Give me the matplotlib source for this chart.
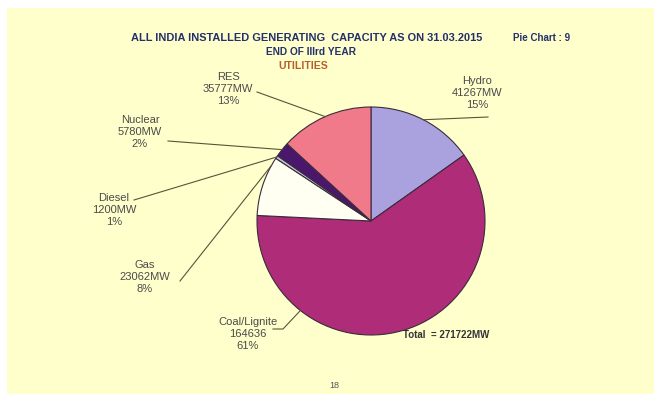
import numpy as np
import matplotlib
matplotlib.use("Agg")
from matplotlib import pyplot as plt
from matplotlib.patches import Rectangle

# Installed capacity by source (MW), clockwise from the top
sources = ["Hydro", "Coal/Lignite", "Gas", "Diesel", "Nuclear", "RES"]
capacity_mw = [41267, 164636, 23062, 1200, 5780, 35777]
pct_labels = [15, 61, 8, 1, 2, 13]
colors = ["#A9A2DE", "#AE2C78", "#FFFFF2", "#B9C4DC", "#4A176A", "#F07A8A"]

W, H = 654, 394


def py(y):
    # page pixel rows run downwards, the axes run upwards
    return H - y


fig = plt.figure(figsize=(W / 100, H / 100), dpi=100, facecolor="white")
ax = fig.add_axes([0, 0, 1, 1])

plt.rcParams["font.family"] = ["Liberation Sans", "DejaVu Sans"]

# pale yellow slide panel
ax.add_patch(Rectangle((7, 0), W - 7, H - 8, facecolor="#FFFFCC", edgecolor="none", zorder=0))

cx, cy, r = 371, py(221), 114
wedges, _ = ax.pie(capacity_mw, colors=colors, startangle=90, counterclock=False,
                   center=(cx, cy), radius=r,
                   wedgeprops=dict(edgecolor="#3b2b3b", linewidth=0.8))
ax.set_xlim(0, W)
ax.set_ylim(0, H)
ax.set_aspect("equal")
ax.axis("off")

# label text centre, leader line end, and where along the wedge the leader lands
label_pos = {
    "Hydro": ((477, 93), (488, 117), 0.5),
    "Coal/Lignite": ((248, 334), (273, 329), 0.75),
    "Gas": ((145, 277), (180, 281), 0.86),
    "Diesel": ((114, 210), (134, 200), 0.5),
    "Nuclear": ((140, 132), (168, 141), 0.5),
    "RES": ((228, 89), (257, 92), 0.5),
}

for name, mw, pct, w in zip(sources, capacity_mw, pct_labels, wedges):
    (tx, ty), (lx, ly), frac = label_pos[name]
    unit = "" if name == "Coal/Lignite" else "MW"
    ax.text(tx, py(ty), f"{name}\n{mw}{unit}\n{pct}%", ha="center", va="center",
            fontsize=8.0, color="#4a4a4a", linespacing=1.3)
    ang = np.deg2rad(w.theta2 - frac * (w.theta2 - w.theta1))
    ex, ey = cx + r * np.cos(ang), cy + r * np.sin(ang)
    if name == "Coal/Lignite":
        xs, ys = [lx, lx + 10, ex], [py(ly), py(ly), ey]
    else:
        xs, ys = [lx, ex], [py(ly), ey]
    ax.plot(xs, ys, color="#55553a", linewidth=0.8, zorder=3)

title_col = "#24306a"
ax.text(307, py(38), "ALL INDIA INSTALLED GENERATING  CAPACITY AS ON 31.03.2015",
        ha="center", va="center", fontsize=7.9, fontweight="bold", color=title_col)
ax.text(542, py(38), "Pie Chart : 9", ha="center", va="center",
        fontsize=7.0, fontweight="bold", color=title_col)
ax.text(311, py(52), "END OF IIIrd YEAR", ha="center", va="center",
        fontsize=7.3, fontweight="bold", color=title_col)
ax.text(303, py(66), "UTILITIES", ha="center", va="center",
        fontsize=7.6, fontweight="bold", color="#B5602C")

total = sum(capacity_mw)
ax.text(403, py(335), f"Total  = {total}MW", ha="left", va="center",
        fontsize=7.0, fontweight="bold", color="#333333")
ax.text(334, py(385), "18", ha="center", va="center", fontsize=6.5, color="#555555")

fig.savefig("out.png", dpi=100, facecolor="white")
